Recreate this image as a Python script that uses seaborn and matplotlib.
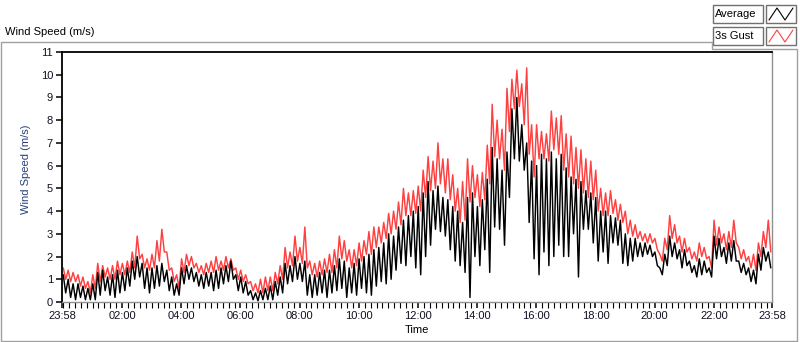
import matplotlib
matplotlib.use("Agg")
import matplotlib.pyplot as plt
from matplotlib.lines import Line2D
from matplotlib.patches import Rectangle
from matplotlib.ticker import FixedLocator, MultipleLocator
import numpy as np
import pandas as pd
import seaborn as sns

# 10 minute bins starting at 23:58, local high / low of each trace (m/s)
gust_hi = [1.5, 1.4, 1.3, 1.2, 1.1, 0.9,
           1.2, 1.7, 1.6, 1.5, 1.6, 1.8,
           1.7, 1.8, 2.2, 2.9, 2.1, 1.9,
           2.1, 2.7, 3.2, 2.2, 1.5, 1.2,
           1.9, 2.1, 2.0, 1.7, 1.6, 1.7,
           1.8, 2.0, 1.8, 2.0, 1.9, 1.5,
           1.4, 1.2, 0.9, 0.8, 1.0, 1.1,
           1.1, 1.3, 1.6, 2.4, 2.2, 2.9,
           2.4, 3.3, 1.8, 1.7, 1.8, 1.9,
           2.1, 2.3, 2.9, 2.7, 2.3, 2.3,
           2.6, 2.7, 3.1, 3.3, 3.3, 3.5,
           3.9, 4.0, 4.4, 5.0, 4.8, 4.9,
           5.1, 5.8, 6.4, 6.2, 7.0, 6.3,
           6.3, 5.6, 5.0, 5.3, 6.3, 6.0,
           5.6, 5.7, 6.9, 8.7, 8.0, 7.6,
           9.4, 9.8, 10.2, 9.6, 10.3, 7.8,
           7.8, 7.5, 7.4, 8.4, 8.1, 8.2,
           7.4, 7.3, 6.8, 6.7, 6.3, 6.2,
           5.8, 5.0, 4.8, 4.9, 4.5, 4.3,
           4.0, 3.6, 3.4, 3.1, 3.0, 3.0,
           2.8, 2.1, 2.8, 3.8, 3.4, 2.9,
           2.8, 2.4, 2.2, 2.6, 2.4, 2.0,
           3.6, 3.3, 3.0, 3.1, 3.6, 2.4,
           2.3, 2.0, 2.1, 2.6, 3.1, 3.6]

gust_lo = [1.0, 0.9, 0.9, 0.7, 0.6, 0.4,
           0.6, 0.9, 1.1, 1.0, 1.0, 1.2,
           1.2, 1.3, 1.5, 1.9, 1.5, 1.4,
           1.5, 1.8, 2.2, 1.4, 0.9, 0.6,
           1.3, 1.6, 1.5, 1.3, 1.2, 1.3,
           1.3, 1.4, 1.4, 1.5, 1.4, 1.0,
           0.9, 0.8, 0.5, 0.4, 0.4, 0.5,
           0.5, 0.8, 1.0, 1.5, 1.6, 1.8,
           1.7, 1.5, 1.2, 1.1, 1.2, 1.3,
           1.3, 1.5, 1.9, 1.8, 1.5, 1.6,
           1.8, 2.1, 2.1, 2.4, 2.6, 2.8,
           3.0, 3.2, 3.4, 3.8, 3.8, 3.9,
           4.0, 4.6, 4.9, 5.0, 5.2, 4.8,
           4.5, 4.0, 3.5, 3.6, 4.4, 4.6,
           4.2, 4.5, 5.2, 6.4, 6.3, 5.8,
           7.5, 8.5, 8.6, 7.8, 6.5, 5.5,
           6.3, 6.3, 6.2, 6.7, 6.5, 5.8,
           5.5, 5.2, 5.0, 4.8, 4.6, 4.5,
           4.0, 3.8, 3.8, 3.9, 3.6, 3.5,
           3.0, 2.9, 2.8, 2.7, 2.6, 2.6,
           2.3, 1.8, 2.3, 2.8, 2.6, 2.2,
           2.2, 1.9, 1.8, 2.0, 1.9, 1.5,
           2.5, 2.6, 2.3, 2.4, 2.6, 1.9,
           1.8, 1.5, 1.4, 2.0, 2.4, 2.2]

avg_hi = [1.2, 1.0, 0.8, 0.8, 0.7, 0.6,
          0.8, 1.3, 1.4, 1.1, 1.2, 1.4,
          1.3, 1.5, 1.8, 2.0, 1.7, 1.5,
          1.5, 1.6, 1.7, 1.4, 1.1, 0.8,
          1.5, 1.6, 1.5, 1.3, 1.2, 1.3,
          1.3, 1.4, 1.5, 1.6, 1.8, 1.2,
          1.1, 0.9, 0.5, 0.4, 0.5, 0.6,
          0.7, 0.9, 1.1, 1.7, 1.6, 2.0,
          1.7, 1.8, 1.2, 1.2, 1.3, 1.4,
          1.4, 1.6, 1.9, 1.8, 1.5, 1.7,
          1.9, 2.0, 2.1, 2.3, 2.4, 2.6,
          3.0, 2.9, 3.3, 3.6, 3.8, 4.0,
          4.2, 4.8, 5.3, 4.9, 5.1, 4.6,
          4.5, 4.2, 4.0, 3.5, 4.6, 4.8,
          4.2, 4.5, 5.4, 6.8, 6.3, 5.8,
          6.6, 8.5, 9.0, 7.8, 7.0, 6.2,
          6.0, 6.5, 6.3, 6.6, 6.3, 6.5,
          5.9, 5.5, 5.4, 5.3, 4.9, 4.8,
          4.6, 4.0, 4.0, 3.8, 3.7, 3.6,
          3.0, 2.8, 2.8, 2.6, 2.6, 2.5,
          2.2, 1.5, 2.1, 2.9, 2.6, 2.3,
          2.3, 1.8, 1.6, 1.9, 1.8, 1.5,
          2.9, 2.8, 2.4, 2.6, 2.7, 1.8,
          1.7, 1.5, 1.4, 2.1, 2.4, 2.2]

avg_lo = [0.4, 0.2, 0.1, 0.2, 0.1, 0.1,
          0.1, 0.3, 0.5, 0.3, 0.2, 0.4,
          0.5, 0.7, 1.0, 1.1, 0.6, 0.4,
          0.6, 0.7, 0.9, 0.5, 0.3, 0.3,
          0.8, 1.0, 0.9, 0.7, 0.6, 0.7,
          0.5, 0.6, 0.8, 0.9, 1.0, 0.5,
          0.4, 0.3, 0.1, 0.05, 0.1, 0.1,
          0.1, 0.3, 0.4, 0.8, 0.9, 1.0,
          0.9, 0.3, 0.2, 0.3, 0.4, 0.2,
          0.4, 0.5, 0.6, 0.2, 0.4, 0.3,
          0.6, 0.4, 0.3, 0.7, 0.9, 0.8,
          1.0, 1.4, 1.7, 1.6, 2.0, 1.5,
          1.2, 2.0, 2.5, 3.2, 3.1, 2.9,
          2.3, 1.8, 1.6, 1.3, 0.2, 2.0,
          1.6, 2.3, 1.3, 3.3, 3.2, 2.5,
          4.6, 6.3, 6.2, 5.8, 3.5, 1.9,
          1.2, 2.2, 1.6, 2.0, 2.5, 2.0,
          2.0, 3.0, 1.1, 3.2, 3.2, 2.6,
          1.8, 2.2, 1.7, 2.6, 2.5, 1.7,
          1.6, 1.8, 2.0, 2.0, 2.1, 2.0,
          1.6, 1.2, 1.6, 2.0, 1.9, 1.5,
          1.6, 1.3, 1.1, 1.2, 1.3, 1.1,
          1.9, 2.0, 1.7, 1.8, 1.8, 1.3,
          1.2, 0.9, 0.8, 1.4, 1.8, 1.5]

tick_labels = ['23:58', '02:00', '04:00', '06:00', '08:00', '10:00', '12:00',
               '14:00', '16:00', '18:00', '20:00', '22:00', '23:58']
tick_minutes = [0, 122, 242, 362, 482, 602, 722, 842, 962, 1082, 1202, 1322, 1440]

W, H = 800, 342


def fx(px):
    return px / W


def fy(py):
    return 1 - py / H


def zigzag(hi, lo):
    return np.column_stack([hi, lo]).ravel()


bins = np.arange(len(avg_hi)) * 10
minutes = np.column_stack([bins + 2.5, bins + 7.5]).ravel()
data = pd.concat([
    pd.DataFrame({'minutes': minutes, 'speed': zigzag(gust_hi, gust_lo), 'series': '3s Gust'}),
    pd.DataFrame({'minutes': minutes, 'speed': zigzag(avg_hi, avg_lo), 'series': 'Average'}),
])

sns.set_style('white')
plt.rcParams['font.family'] = ['Liberation Sans', 'DejaVu Sans']

fig = plt.figure(figsize=(W / 100, H / 100), dpi=100)
ax = fig.add_axes([fx(62), fy(302), 710 / W, 250 / H])

sns.lineplot(data=data, x='minutes', y='speed', hue='series', hue_order=['3s Gust', 'Average'],
             palette={'3s Gust': '#ff4040', 'Average': 'black'}, estimator=None, sort=False,
             legend=False, linewidth=1.05, ax=ax)

ax.set_xlim(0, 1440)
ax.set_ylim(0, 11)
ax.set_yticks(range(0, 12))
ax.xaxis.set_major_locator(FixedLocator(tick_minutes))
ax.set_xticklabels(tick_labels)
ax.xaxis.set_minor_locator(MultipleLocator(12, offset=2))
ax.tick_params(axis='both', which='major', direction='out', length=4.5, width=1.1,
               color='black', labelsize=8, pad=2, labelcolor='#111122')
ax.tick_params(axis='x', which='minor', direction='out', length=4, width=0.8,
               color='black', bottom=True)
ax.tick_params(axis='y', left=True)
ax.tick_params(axis='x', bottom=True)

for side in ['top', 'left']:
    ax.spines[side].set_color('black')
    ax.spines[side].set_linewidth(1.3)
for side in ['bottom', 'right']:
    ax.spines[side].set_color('#909090')
    ax.spines[side].set_linewidth(1.0)

ax.set_xlabel('Time', fontsize=8, color='black', labelpad=3)
ax.set_ylabel('Wind Speed (m/s)', fontsize=8, color='#26407a')
ax.yaxis.set_label_coords(-0.044, 0.53)

# outer panel frame
fig.add_artist(Line2D([fx(1), fx(1), fx(712), fx(712), fx(797), fx(797), fx(1)],
                      [fy(341), fy(42), fy(42), fy(49), fy(49), fy(341), fy(341)],
                      transform=fig.transFigure, color='#a0a0a0', linewidth=1.0))

fig.text(fx(5), fy(32), 'Wind Speed (m/s)', fontsize=8, color='black', va='center', ha='left')

# plot legend in the top right corner
for label, color, top in [('Average', 'black', 5), ('3s Gust', '#ff4040', 27)]:
    fig.add_artist(Rectangle((fx(713), fy(top + 18)), 50 / W, 18 / H, transform=fig.transFigure,
                             facecolor='white', edgecolor='#707070', linewidth=1.0))
    fig.add_artist(Rectangle((fx(766), fy(top + 18)), 30 / W, 18 / H, transform=fig.transFigure,
                             facecolor='white', edgecolor='#707070', linewidth=1.0))
    fig.text(fx(715), fy(top + 9), label, fontsize=8, color='black', va='center', ha='left')
    fig.add_artist(Line2D([fx(769), fx(777), fx(785), fx(793)],
                          [fy(top + 15), fy(top + 3), fy(top + 15), fy(top + 3)],
                          transform=fig.transFigure, color=color, linewidth=0.8))

fig.savefig('out.png', dpi=100)
